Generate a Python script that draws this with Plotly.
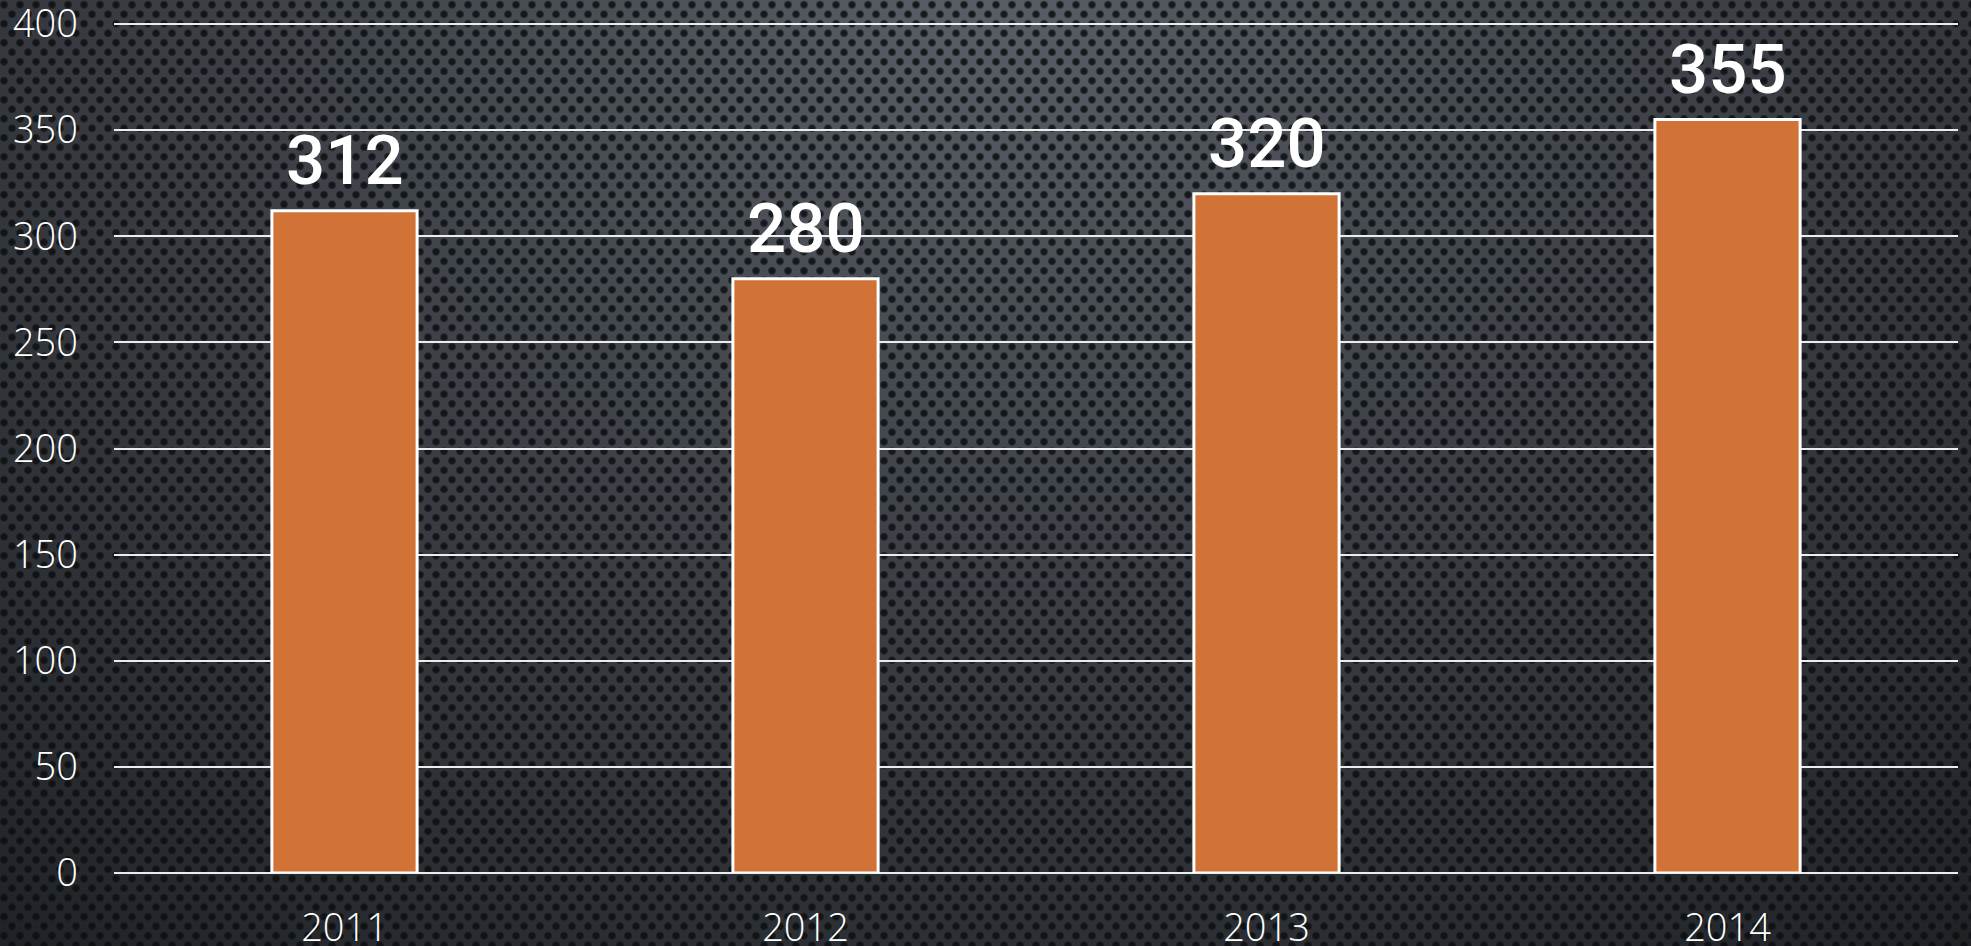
import base64
import plotly.graph_objects as go

# Yearly totals
years = ["2011", "2012", "2013", "2014"]
values = [312, 280, 320, 355]
y_ticks = [0, 50, 100, 150, 200, 250, 300, 350, 400]

W, H = 1971, 946
BAR_COLOR = "#D17337"

# Perforated dark-metal backdrop with a soft spotlight at the top centre
svg = f"""<svg xmlns="http://www.w3.org/2000/svg" width="{W}" height="{H}" viewBox="0 0 {W} {H}" preserveAspectRatio="none">
<defs>
  <radialGradient id="glow" cx="50%" cy="0%" r="85%" fx="50%" fy="0%" gradientTransform="translate(0.5,0) scale(1,1.6) translate(-0.5,0)">
    <stop offset="0" stop-color="#595e66"/>
    <stop offset="0.45" stop-color="#3c4046"/>
    <stop offset="1" stop-color="#1c1f22"/>
  </radialGradient>
  <radialGradient id="hole">
    <stop offset="0" stop-color="#0c0e10" stop-opacity="0.9"/>
    <stop offset="0.6" stop-color="#0c0e10" stop-opacity="0.8"/>
    <stop offset="1" stop-color="#0c0e10" stop-opacity="0"/>
  </radialGradient>
  <pattern id="dots" patternUnits="userSpaceOnUse" width="16" height="19">
    <circle cx="4" cy="4.75" r="4.6" fill="url(#hole)"/>
    <circle cx="12" cy="14.25" r="4.6" fill="url(#hole)"/>
  </pattern>
</defs>
<rect width="{W}" height="{H}" fill="url(#glow)"/>
<rect width="{W}" height="{H}" fill="url(#dots)"/>
</svg>"""
bg_src = "data:image/svg+xml;base64," + base64.b64encode(svg.encode()).decode()

ML, MR, MT, MB = 114, 13, 23, 73
pw = W - ML - MR
ph = H - MT - MB

fig = go.Figure()
fig.add_trace(go.Bar(
    x=years,
    y=values,
    width=0.315,
    marker=dict(color=BAR_COLOR, line=dict(color="#ffffff", width=3)),
    hoverinfo="x+y",
))

# Value labels above each bar (category axes take the serial index)
for i, v in enumerate(values):
    fig.add_annotation(
        x=i, y=v, text=str(v), showarrow=False,
        yanchor="bottom", yshift=8,
        font=dict(family="Roboto", size=69, color="#ffffff", weight=500),
    )

fig.add_layout_image(
    source=bg_src, xref="paper", yref="paper",
    x=-ML / pw, y=1 + MT / ph, sizex=W / pw, sizey=H / ph,
    xanchor="left", yanchor="top", sizing="stretch", layer="below",
)

tick_font = dict(family="Open Sans", size=38, color="#ffffff", weight=300)

fig.update_layout(
    width=W, height=H,
    margin=dict(l=ML, r=MR, t=MT, b=MB),
    paper_bgcolor="#1c1f22",
    plot_bgcolor="rgba(0,0,0,0)",
    showlegend=False,
    xaxis=dict(
        type="category", range=[-0.5, 3.5], automargin=False,
        showgrid=False, zeroline=False, showline=False, ticks="",
        tickfont=tick_font,
        ticklabelstandoff=29, ticklabeloverflow="allow",
    ),
    yaxis=dict(
        range=[0, 400.5], tickvals=y_ticks, automargin=False,
        showgrid=True, gridcolor="#ececec", gridwidth=1.6,
        zeroline=True, zerolinecolor="#ececec", zerolinewidth=2,
        showline=False, ticks="",
        tickfont=tick_font,
        ticklabelstandoff=35, ticklabeloverflow="allow",
    ),
)

fig.write_html("out.html")
